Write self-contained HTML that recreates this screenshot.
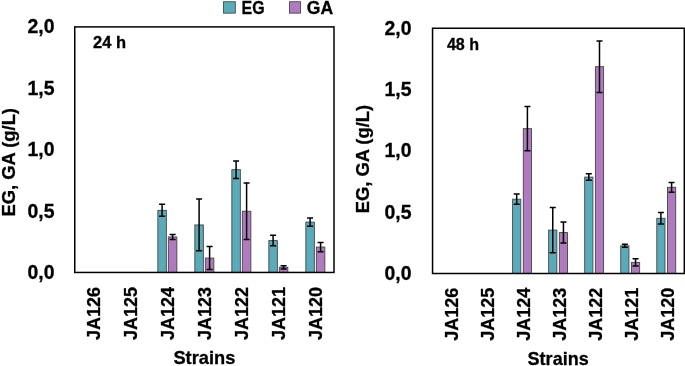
<!DOCTYPE html>
<html><head><meta charset="utf-8"><style>
html,body{margin:0;padding:0;background:#fff;overflow:hidden;}
svg{display:block;filter:blur(0.3px);}
</style></head><body>
<svg width="685" height="366" viewBox="0 0 685 366">
<rect width="685" height="366" fill="#fff"/>
<rect x="157.85" y="210.35" width="8.50" height="62.10" fill="#5aabb9" stroke="#454545" stroke-width="0.9"/>
<rect x="168.35" y="236.95" width="8.50" height="35.50" fill="#b07abf" stroke="#454545" stroke-width="0.9"/>
<path d="M162.10 204.35V216.35M159.10 204.35H165.10M159.10 216.35H165.10" stroke="#000" stroke-width="1.5" fill="none"/>
<path d="M172.60 234.45V239.45M169.60 234.45H175.60M169.60 239.45H175.60" stroke="#000" stroke-width="1.5" fill="none"/>
<rect x="194.85" y="224.95" width="8.50" height="47.50" fill="#5aabb9" stroke="#454545" stroke-width="0.9"/>
<rect x="205.35" y="258.05" width="8.50" height="14.40" fill="#b07abf" stroke="#454545" stroke-width="0.9"/>
<path d="M199.10 199.05V250.85M196.10 199.05H202.10M196.10 250.85H202.10" stroke="#000" stroke-width="1.5" fill="none"/>
<path d="M209.60 246.60V269.50M206.60 246.60H212.60M206.60 269.50H212.60" stroke="#000" stroke-width="1.5" fill="none"/>
<rect x="231.85" y="169.70" width="8.50" height="102.75" fill="#5aabb9" stroke="#454545" stroke-width="0.9"/>
<rect x="242.35" y="211.25" width="8.50" height="61.20" fill="#b07abf" stroke="#454545" stroke-width="0.9"/>
<path d="M236.10 160.95V178.45M233.10 160.95H239.10M233.10 178.45H239.10" stroke="#000" stroke-width="1.5" fill="none"/>
<path d="M246.60 183.05V239.45M243.60 183.05H249.60M243.60 239.45H249.60" stroke="#000" stroke-width="1.5" fill="none"/>
<rect x="268.85" y="240.60" width="8.50" height="31.85" fill="#5aabb9" stroke="#454545" stroke-width="0.9"/>
<rect x="279.35" y="267.30" width="8.50" height="5.15" fill="#b07abf" stroke="#454545" stroke-width="0.9"/>
<path d="M273.10 235.35V245.85M270.10 235.35H276.10M270.10 245.85H276.10" stroke="#000" stroke-width="1.5" fill="none"/>
<path d="M283.60 265.70V268.90M280.60 265.70H286.60M280.60 268.90H286.60" stroke="#000" stroke-width="1.5" fill="none"/>
<rect x="305.85" y="222.10" width="8.50" height="50.35" fill="#5aabb9" stroke="#454545" stroke-width="0.9"/>
<rect x="316.35" y="247.05" width="8.50" height="25.40" fill="#b07abf" stroke="#454545" stroke-width="0.9"/>
<path d="M310.10 217.95V226.25M307.10 217.95H313.10M307.10 226.25H313.10" stroke="#000" stroke-width="1.5" fill="none"/>
<path d="M320.60 242.45V251.65M317.60 242.45H323.60M317.60 251.65H323.60" stroke="#000" stroke-width="1.5" fill="none"/>
<rect x="74.75" y="26.90" width="259.25" height="245.55" fill="none" stroke="#000" stroke-width="1.5"/>
<rect x="512.60" y="199.20" width="8.20" height="74.30" fill="#5aabb9" stroke="#454545" stroke-width="0.9"/>
<rect x="523.30" y="128.65" width="8.20" height="144.85" fill="#b07abf" stroke="#454545" stroke-width="0.9"/>
<path d="M516.70 194.05V204.35M513.70 194.05H519.70M513.70 204.35H519.70" stroke="#000" stroke-width="1.5" fill="none"/>
<path d="M527.40 106.55V150.75M524.40 106.55H530.40M524.40 150.75H530.40" stroke="#000" stroke-width="1.5" fill="none"/>
<rect x="548.65" y="230.10" width="8.20" height="43.40" fill="#5aabb9" stroke="#454545" stroke-width="0.9"/>
<rect x="559.35" y="232.55" width="8.20" height="40.95" fill="#b07abf" stroke="#454545" stroke-width="0.9"/>
<path d="M552.75 207.55V252.65M549.75 207.55H555.75M549.75 252.65H555.75" stroke="#000" stroke-width="1.5" fill="none"/>
<path d="M563.45 222.10V243.00M560.45 222.10H566.45M560.45 243.00H566.45" stroke="#000" stroke-width="1.5" fill="none"/>
<rect x="584.70" y="177.10" width="8.20" height="96.40" fill="#5aabb9" stroke="#454545" stroke-width="0.9"/>
<rect x="595.40" y="66.70" width="8.20" height="206.80" fill="#b07abf" stroke="#454545" stroke-width="0.9"/>
<path d="M588.80 173.85V180.35M585.80 173.85H591.80M585.80 180.35H591.80" stroke="#000" stroke-width="1.5" fill="none"/>
<path d="M599.50 40.90V92.50M596.50 40.90H602.50M596.50 92.50H602.50" stroke="#000" stroke-width="1.5" fill="none"/>
<rect x="620.75" y="245.85" width="8.20" height="27.65" fill="#5aabb9" stroke="#454545" stroke-width="0.9"/>
<rect x="631.45" y="262.35" width="8.20" height="11.15" fill="#b07abf" stroke="#454545" stroke-width="0.9"/>
<path d="M624.85 244.35V247.35M621.85 244.35H627.85M621.85 247.35H627.85" stroke="#000" stroke-width="1.5" fill="none"/>
<path d="M635.55 258.80V265.90M632.55 258.80H638.55M632.55 265.90H638.55" stroke="#000" stroke-width="1.5" fill="none"/>
<rect x="656.80" y="218.30" width="8.20" height="55.20" fill="#5aabb9" stroke="#454545" stroke-width="0.9"/>
<rect x="667.50" y="187.30" width="8.20" height="86.20" fill="#b07abf" stroke="#454545" stroke-width="0.9"/>
<path d="M660.90 212.55V224.05M657.90 212.55H663.90M657.90 224.05H663.90" stroke="#000" stroke-width="1.5" fill="none"/>
<path d="M671.60 182.40V192.20M668.60 182.40H674.60M668.60 192.20H674.60" stroke="#000" stroke-width="1.5" fill="none"/>
<rect x="432.55" y="28.25" width="251.75" height="245.25" fill="none" stroke="#000" stroke-width="1.5"/>
<text x="54.50" y="33.30" font-size="19.8" font-family="Liberation Sans, sans-serif" font-weight="bold" stroke="#000" stroke-width="0.3" textLength="27.00" lengthAdjust="spacingAndGlyphs" text-anchor="end">2,0</text>
<text x="54.50" y="94.71" font-size="19.8" font-family="Liberation Sans, sans-serif" font-weight="bold" stroke="#000" stroke-width="0.3" textLength="27.00" lengthAdjust="spacingAndGlyphs" text-anchor="end">1,5</text>
<text x="54.50" y="156.12" font-size="19.8" font-family="Liberation Sans, sans-serif" font-weight="bold" stroke="#000" stroke-width="0.3" textLength="27.00" lengthAdjust="spacingAndGlyphs" text-anchor="end">1,0</text>
<text x="54.50" y="217.53" font-size="19.8" font-family="Liberation Sans, sans-serif" font-weight="bold" stroke="#000" stroke-width="0.3" textLength="27.00" lengthAdjust="spacingAndGlyphs" text-anchor="end">0,5</text>
<text x="54.50" y="278.94" font-size="19.8" font-family="Liberation Sans, sans-serif" font-weight="bold" stroke="#000" stroke-width="0.3" textLength="27.00" lengthAdjust="spacingAndGlyphs" text-anchor="end">0,0</text>
<text transform="translate(100.00,340.00) rotate(-90)" font-size="19" font-family="Liberation Sans, sans-serif" font-weight="bold" stroke="#000" stroke-width="0.3" textLength="53.00" lengthAdjust="spacingAndGlyphs">JA126</text>
<text transform="translate(137.00,340.00) rotate(-90)" font-size="19" font-family="Liberation Sans, sans-serif" font-weight="bold" stroke="#000" stroke-width="0.3" textLength="53.00" lengthAdjust="spacingAndGlyphs">JA125</text>
<text transform="translate(174.00,340.00) rotate(-90)" font-size="19" font-family="Liberation Sans, sans-serif" font-weight="bold" stroke="#000" stroke-width="0.3" textLength="53.00" lengthAdjust="spacingAndGlyphs">JA124</text>
<text transform="translate(211.00,340.00) rotate(-90)" font-size="19" font-family="Liberation Sans, sans-serif" font-weight="bold" stroke="#000" stroke-width="0.3" textLength="53.00" lengthAdjust="spacingAndGlyphs">JA123</text>
<text transform="translate(248.00,340.00) rotate(-90)" font-size="19" font-family="Liberation Sans, sans-serif" font-weight="bold" stroke="#000" stroke-width="0.3" textLength="53.00" lengthAdjust="spacingAndGlyphs">JA122</text>
<text transform="translate(285.00,340.00) rotate(-90)" font-size="19" font-family="Liberation Sans, sans-serif" font-weight="bold" stroke="#000" stroke-width="0.3" textLength="53.00" lengthAdjust="spacingAndGlyphs">JA121</text>
<text transform="translate(322.00,340.00) rotate(-90)" font-size="19" font-family="Liberation Sans, sans-serif" font-weight="bold" stroke="#000" stroke-width="0.3" textLength="53.00" lengthAdjust="spacingAndGlyphs">JA120</text>
<text x="173.40" y="363.90" font-size="19" font-family="Liberation Sans, sans-serif" font-weight="bold" stroke="#000" stroke-width="0.3" textLength="61.90" lengthAdjust="spacingAndGlyphs">Strains</text>
<text transform="translate(15.30,216.60) rotate(-90)" font-size="19" font-family="Liberation Sans, sans-serif" font-weight="bold" stroke="#000" stroke-width="0.3" textLength="108.60" lengthAdjust="spacingAndGlyphs">EG, GA (g/L)</text>
<text x="93.10" y="47.90" font-size="16.5" font-family="Liberation Sans, sans-serif" font-weight="bold" stroke="#000" stroke-width="0.3" textLength="33.00" lengthAdjust="spacingAndGlyphs">24 h</text>
<text x="411.50" y="34.50" font-size="19.8" font-family="Liberation Sans, sans-serif" font-weight="bold" stroke="#000" stroke-width="0.3" textLength="27.00" lengthAdjust="spacingAndGlyphs" text-anchor="end">2,0</text>
<text x="411.50" y="95.88" font-size="19.8" font-family="Liberation Sans, sans-serif" font-weight="bold" stroke="#000" stroke-width="0.3" textLength="27.00" lengthAdjust="spacingAndGlyphs" text-anchor="end">1,5</text>
<text x="411.50" y="157.25" font-size="19.8" font-family="Liberation Sans, sans-serif" font-weight="bold" stroke="#000" stroke-width="0.3" textLength="27.00" lengthAdjust="spacingAndGlyphs" text-anchor="end">1,0</text>
<text x="411.50" y="218.62" font-size="19.8" font-family="Liberation Sans, sans-serif" font-weight="bold" stroke="#000" stroke-width="0.3" textLength="27.00" lengthAdjust="spacingAndGlyphs" text-anchor="end">0,5</text>
<text x="411.50" y="280.00" font-size="19.8" font-family="Liberation Sans, sans-serif" font-weight="bold" stroke="#000" stroke-width="0.3" textLength="27.00" lengthAdjust="spacingAndGlyphs" text-anchor="end">0,0</text>
<text transform="translate(457.90,340.80) rotate(-90)" font-size="19" font-family="Liberation Sans, sans-serif" font-weight="bold" stroke="#000" stroke-width="0.3" textLength="53.00" lengthAdjust="spacingAndGlyphs">JA126</text>
<text transform="translate(493.95,340.80) rotate(-90)" font-size="19" font-family="Liberation Sans, sans-serif" font-weight="bold" stroke="#000" stroke-width="0.3" textLength="53.00" lengthAdjust="spacingAndGlyphs">JA125</text>
<text transform="translate(530.00,340.80) rotate(-90)" font-size="19" font-family="Liberation Sans, sans-serif" font-weight="bold" stroke="#000" stroke-width="0.3" textLength="53.00" lengthAdjust="spacingAndGlyphs">JA124</text>
<text transform="translate(566.05,340.80) rotate(-90)" font-size="19" font-family="Liberation Sans, sans-serif" font-weight="bold" stroke="#000" stroke-width="0.3" textLength="53.00" lengthAdjust="spacingAndGlyphs">JA123</text>
<text transform="translate(602.10,340.80) rotate(-90)" font-size="19" font-family="Liberation Sans, sans-serif" font-weight="bold" stroke="#000" stroke-width="0.3" textLength="53.00" lengthAdjust="spacingAndGlyphs">JA122</text>
<text transform="translate(638.15,340.80) rotate(-90)" font-size="19" font-family="Liberation Sans, sans-serif" font-weight="bold" stroke="#000" stroke-width="0.3" textLength="53.00" lengthAdjust="spacingAndGlyphs">JA121</text>
<text transform="translate(674.20,340.80) rotate(-90)" font-size="19" font-family="Liberation Sans, sans-serif" font-weight="bold" stroke="#000" stroke-width="0.3" textLength="53.00" lengthAdjust="spacingAndGlyphs">JA120</text>
<text x="527.60" y="365.10" font-size="19" font-family="Liberation Sans, sans-serif" font-weight="bold" stroke="#000" stroke-width="0.3" textLength="61.10" lengthAdjust="spacingAndGlyphs">Strains</text>
<text transform="translate(369.10,213.30) rotate(-90)" font-size="19" font-family="Liberation Sans, sans-serif" font-weight="bold" stroke="#000" stroke-width="0.3" textLength="108.40" lengthAdjust="spacingAndGlyphs">EG, GA (g/L)</text>
<text x="446.90" y="50.20" font-size="16.5" font-family="Liberation Sans, sans-serif" font-weight="bold" stroke="#000" stroke-width="0.3" textLength="32.20" lengthAdjust="spacingAndGlyphs">48 h</text>
<rect x="223.5" y="1.75" width="11.8" height="11.4" fill="#5aabb9" stroke="#333" stroke-width="0.75"/>
<text x="241.50" y="13.80" font-size="18.6" font-family="Liberation Sans, sans-serif" font-weight="bold" stroke="#000" stroke-width="0.3" textLength="23.10" lengthAdjust="spacingAndGlyphs">EG</text>
<rect x="289.45" y="1.75" width="11.2" height="11.4" fill="#b07abf" stroke="#333" stroke-width="0.75"/>
<text x="306.80" y="13.80" font-size="18.6" font-family="Liberation Sans, sans-serif" font-weight="bold" stroke="#000" stroke-width="0.3" textLength="26.40" lengthAdjust="spacingAndGlyphs">GA</text>
</svg>
</body></html>
